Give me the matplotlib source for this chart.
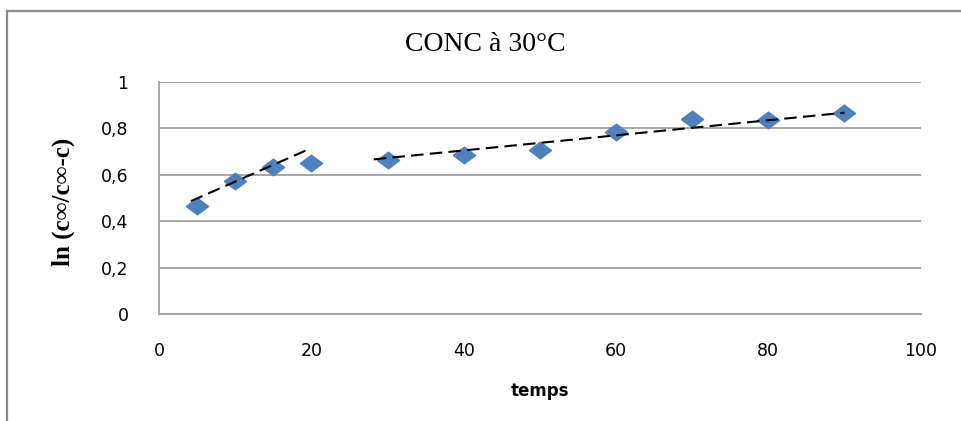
from matplotlib import pyplot as plt
from matplotlib.lines import Line2D

# données
temps = [5, 10, 15, 20, 30, 40, 50, 60, 70, 80, 90]
ln_vals = [0.467, 0.575, 0.635, 0.650, 0.664, 0.687, 0.707, 0.783, 0.839, 0.838, 0.865]

# courbes de tendance (extrémités)
trend1_x = [4.2, 19.4]
trend1_y = [0.487, 0.707]
trend2_x = [28.2, 90]
trend2_y = [0.667, 0.868]

fig = plt.figure(figsize=(9.62, 4.21), dpi=100)
ax = fig.add_axes([0.1653, 0.254, 0.7917, 0.551])

diamond = [(-1, 0), (0, 0.75), (1, 0), (0, -0.75), (-1, 0)]
ax.plot(temps, ln_vals, ls="none", marker=diamond, ms=16, color="#4F81BD", zorder=3)
ax.plot(trend1_x, trend1_y, color="black", lw=1.5, dashes=(6, 3), zorder=4)
ax.plot(trend2_x, trend2_y, color="black", lw=1.5, dashes=(6, 3), zorder=4)

ax.set_xlim(0, 100)
ax.set_ylim(0, 1)
ax.set_xticks([0, 20, 40, 60, 80, 100])
ax.set_yticks([0, 0.2, 0.4, 0.6, 0.8, 1])
ax.set_yticklabels(["0", "0,2", "0,4", "0,6", "0,8", "1"])
ax.tick_params(length=0, labelsize=12.5, colors="black")
ax.tick_params(axis="x", pad=20)
ax.tick_params(axis="y", pad=22)

ax.grid(axis="y", color="#A0A0A0", lw=1.3)
ax.set_axisbelow(True)
for s in ["top", "right"]:
    ax.spines[s].set_visible(False)
ax.spines["left"].set_color("#A0A0A0")
ax.spines["left"].set_linewidth(1.3)
ax.spines["bottom"].set_color("#A0A0A0")
ax.spines["bottom"].set_linewidth(1.3)

fig.text(0.505, 0.895, "CONC à 30°C", family="Liberation Serif", fontsize=20,
         ha="center", va="center")
fig.text(0.066, 0.521, "ln (c∞/c∞-c)", family="Liberation Serif", fontsize=18,
         fontweight="bold", rotation=90, ha="center", va="center")
fig.text(0.5613, 0.071, "temps", family="DejaVu Sans", fontsize=12,
         fontweight="bold", ha="center", va="center")

# cadre du graphique
fig.add_artist(Line2D([7 / 962, 7 / 962], [0, 1 - 11 / 421], color="#8C8C8C", lw=1.6))
fig.add_artist(Line2D([7 / 962, 1], [1 - 11 / 421, 1 - 11 / 421], color="#8C8C8C", lw=1.6))

plt.savefig("out.png", dpi=100)
